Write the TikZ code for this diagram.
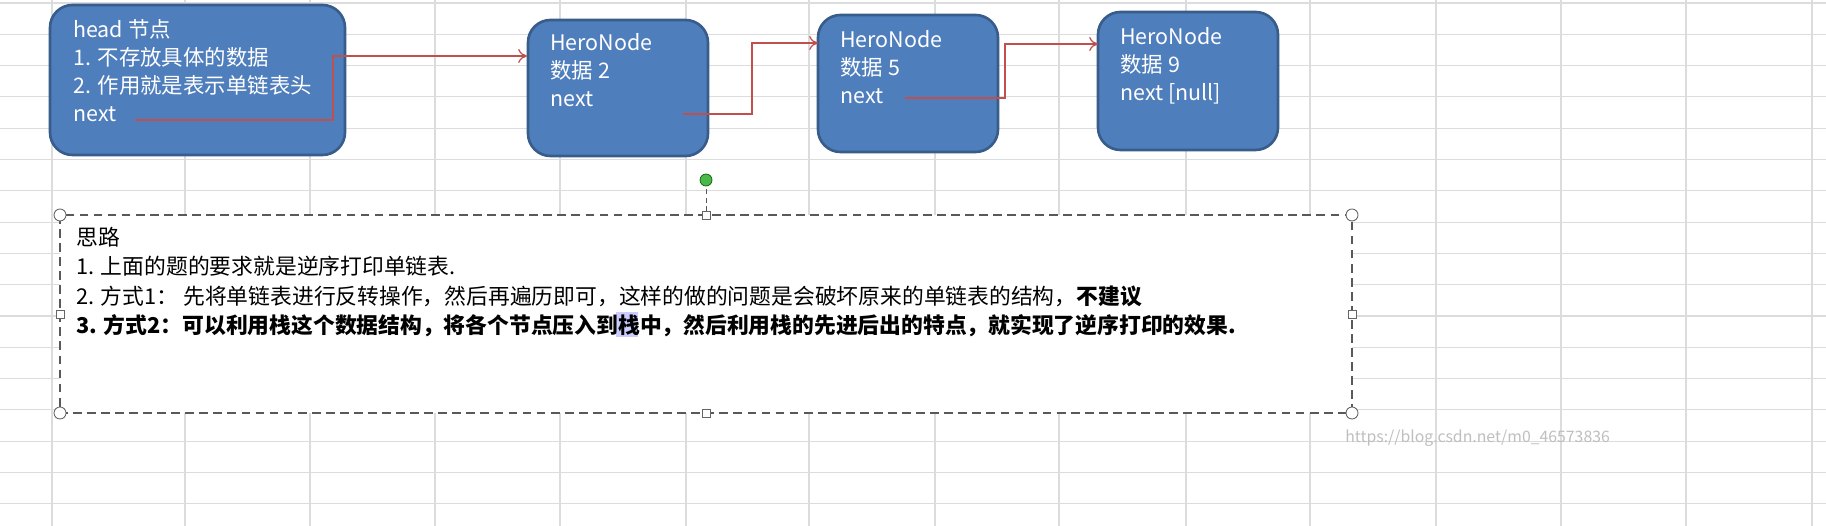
\documentclass[tikz,border=0pt]{standalone}
\usepackage{fontspec}
\setmainfont{Noto Sans CJK SC}
\usetikzlibrary{arrows.meta}
\definecolor{boxfill}{HTML}{4F7EBD}
\definecolor{boxline}{HTML}{385D8A}
\definecolor{arr}{HTML}{C0504D}
\definecolor{gridc}{HTML}{DADCDD}
\begin{document}
\begin{tikzpicture}[x=0.02cm,y=-0.02cm,
  nodebox/.style={draw=boxline,line width=1.5pt,fill=boxfill,rounded corners=0.45cm},
  nodetxt/.style={anchor=north west,text=white,font=\fontsize{12.2}{16}\selectfont,align=left,inner sep=0},
  link/.style={draw=arr,line width=0.7pt,-{To[length=5pt,width=8pt]}},
  handle/.style={draw=gray!80!black,fill=white,line width=0.5pt}]
\useasboundingbox (0,0) rectangle (1826,526);
\fill[white] (0,0) rectangle (1826,526);
% grid
\foreach \k in {0,...,16} \draw[gridc,line width=0.6pt] (0,{3+31.3*\k}) -- (1826,{3+31.3*\k});
\foreach \xx in {52,185,310,435,560,686,809,935,1059,1186,1310,1436,1561,1686,1812} \draw[gridc,line width=0.6pt] (\xx,0) -- (\xx,526);
% boxes
\draw[nodebox] (50,5) rectangle (345,155);
\draw[nodebox] (528,20) rectangle (708,156);
\draw[nodebox] (818,15) rectangle (998,152);
\draw[nodebox] (1098,12) rectangle (1278,150);
\node[nodetxt] (h) at (73,19) {head 节点\\1. 不存放具体的数据\\2. 作用就是表示单链表头\\next};
\node[nodetxt] (n2) at (550,33) {HeroNode\\数据 2\\next};
\node[nodetxt] (n5) at (840,30) {HeroNode\\数据 5\\next};
\node[nodetxt] (n9) at (1120,27) {HeroNode\\数据 9\\next [null]};
\coordinate (a0) at (135,120); \coordinate (a1) at (527,56);
\coordinate (b0) at (683,114); \coordinate (b1) at (818,43);
\coordinate (c0) at (905,98); \coordinate (c1) at (1098,44);
\draw[link] (a0) -- (333,120) -- (333,56) -- (a1);
\draw[link] (b0) -- (752,114) -- (752,43) -- (b1);
\draw[link] (c0) -- (1005,98) -- (1005,44) -- (c1);
% text box
\fill[white] (60,215) rectangle (1352,413);
\draw[gray!70!black,line width=0.7pt,dash pattern=on 5pt off 3pt] (60,215) rectangle (1352,413);
\draw[gray!70!black,densely dashed,line width=0.5pt] (706,180) -- (706,215);
\fill[green!60!black!70,draw=green!40!black] (706,180) circle (6);
\foreach \px/\py in {60/215,1352/215,60/413,1352/413} \draw[handle] (\px,\py) circle (6);
\foreach \px/\py in {706/215,706/413,60/314,1352/314} \draw[handle] (\px-4,\py-4) rectangle (\px+4,\py+4);
\fill[blue!20] (616,312) rectangle (638,337);
\node[anchor=north west,inner sep=0,align=left,font=\fontsize{12.4}{16.6}\selectfont] (t) at (76,227) {思路\\
1. 上面的题的要求就是逆序打印单链表.\\
2. 方式1： 先将单链表进行反转操作，然后再遍历即可，这样的做的问题是会破坏原来的单链表的结构，{\bfseries 不建议}\\
{\bfseries 3. 方式2：可以利用栈这个数据结构，将各个节点压入到栈中，然后利用栈的先进后出的特点，就实现了逆序打印的效果.}};
\node[anchor=west,inner sep=0,text=gray!50,font=\fontsize{9}{10}\selectfont] (w) at (1345,438) {https://blog.csdn.net/m0\_46573836};
\end{tikzpicture}
\end{document}
